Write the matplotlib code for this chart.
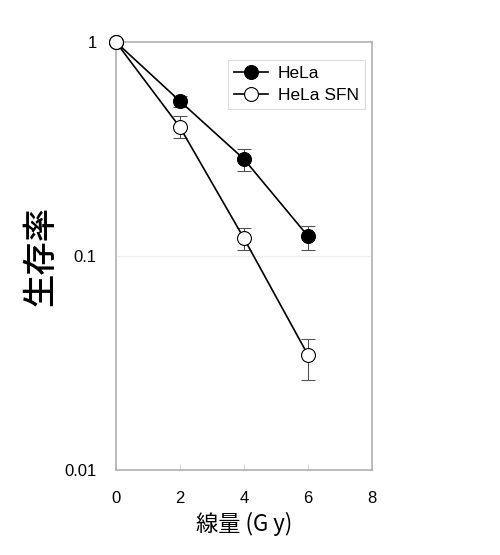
import matplotlib.pyplot as plt
import numpy as np

plt.rcParams['font.family'] = ['Liberation Sans', 'Noto Sans CJK JP', 'DejaVu Sans']

dose = [0, 2, 4, 6]
hela = [1.0, 0.53, 0.284, 0.124]
hela_lo = [1.0, 0.50, 0.249, 0.107]
hela_hi = [1.0, 0.56, 0.318, 0.138]
sfn = [1.0, 0.40, 0.121, 0.0345]
sfn_lo = [1.0, 0.356, 0.107, 0.0264]
sfn_hi = [1.0, 0.45, 0.135, 0.041]

fig = plt.figure(figsize=(5, 5.55), dpi=100)
ax = fig.add_axes([0.232, 0.153, 0.512, 0.771])

grey = '#b0b0b0'

def draw(y, lo, hi, face, label, z):
    y = np.array(y)
    err = [y - np.array(lo), np.array(hi) - y]
    ax.errorbar(dose, y, yerr=err, fmt='none', ecolor='#555555', elinewidth=0.8,
                capsize=5, capthick=0.8, zorder=2)
    ax.plot(dose, y, '-o', color='black', lw=1.2, markersize=10,
            markerfacecolor=face, markeredgecolor='black', markeredgewidth=0.8,
            label=label, zorder=z, clip_on=False)

draw(hela, hela_lo, hela_hi, 'black', 'HeLa', 3)
draw(sfn, sfn_lo, sfn_hi, 'white', 'HeLa SFN', 4)

ax.set_yscale('log')
ax.set_ylim(0.01, 1)
ax.set_xlim(0, 8)
ax.set_xticks([0, 2, 4, 6, 8])
ax.set_yticks([0.01, 0.1, 1])
ax.set_yticklabels(['0.01', '0.1', '1'])
ax.minorticks_off()
ax.axhline(0.1, color='#f0f0f0', lw=1, zorder=0)

for s in ax.spines.values():
    s.set_color(grey)
    s.set_linewidth(1.2)

ax.tick_params(axis='x', direction='in', length=4, color='#d8d8d8', pad=15, labelsize=12)
ax.tick_params(axis='y', length=0, pad=14, labelsize=12)

ax.set_xlabel('線量 (G y)', fontsize=16, family=['Noto Sans CJK JP', 'DejaVu Sans'], labelpad=4)
ax.set_ylabel('生存率', fontsize=24, family=['Noto Sans CJK JP', 'DejaVu Sans'],
              fontweight='medium', labelpad=4)

leg = ax.legend(loc='upper right', bbox_to_anchor=(0.973, 0.958), borderaxespad=0,
                fontsize=12.5, fancybox=False, framealpha=1, edgecolor='#dddddd',
                handlelength=2.0, borderpad=0.35, labelspacing=0.35, handletextpad=0.55)
leg.get_frame().set_linewidth(0.8)

fig.savefig('out.png', dpi=100)
